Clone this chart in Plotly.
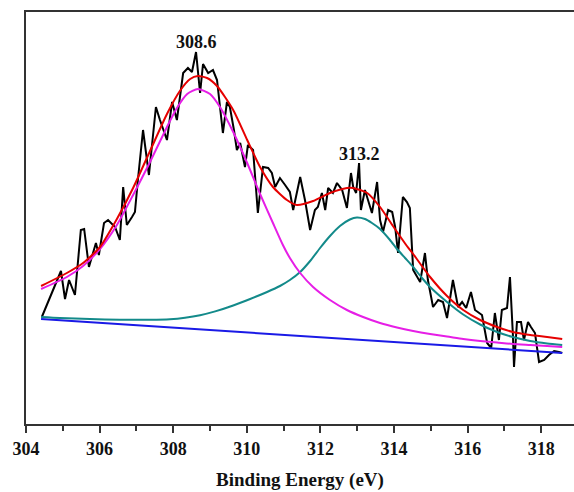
import plotly.graph_objects as go

# Measured spectrum (binding energy in eV, intensity in a.u.)
energy = [304.43, 304.95, 305.06, 305.17, 305.33, 305.49, 305.58, 305.71, 305.90, 305.98,
          306.12, 306.23, 306.42, 306.55, 306.64, 306.74, 306.88, 306.96, 307.04, 307.18,
          307.34, 307.53, 307.64, 307.83, 307.97, 308.10, 308.27, 308.40, 308.51, 308.62,
          308.73, 308.81, 308.95, 309.08, 309.19, 309.35, 309.46, 309.54, 309.65, 309.73,
          309.82, 309.95, 310.03, 310.17, 310.30, 310.44, 310.58, 310.68, 310.77, 310.90,
          311.04, 311.17, 311.26, 311.45, 311.58, 311.72, 311.85, 311.93, 312.04, 312.13,
          312.21, 312.34, 312.45, 312.59, 312.72, 312.83, 312.89, 312.97, 313.05, 313.10,
          313.21, 313.29, 313.40, 313.54, 313.62, 313.70, 313.84, 313.95, 314.03, 314.11,
          314.24, 314.35, 314.43, 314.52, 314.63, 314.71, 314.84, 314.92, 315.06, 315.20,
          315.33, 315.44, 315.60, 315.74, 315.85, 315.96, 316.09, 316.20, 316.39, 316.53,
          316.64, 316.74, 316.85, 316.93, 317.07, 317.15, 317.23, 317.26, 317.34, 317.45,
          317.53, 317.64, 317.72, 317.83, 317.94, 318.08, 318.21, 318.35, 318.48, 318.57]
intensity = [107, 153, 125, 144, 129, 194, 195, 157, 181, 169,
             201, 204, 197, 184, 237, 199, 207, 212, 244, 294,
             249, 317, 304, 284, 322, 304, 351, 356, 352, 372,
             331, 360, 351, 354, 344, 291, 322, 317, 294, 274,
             281, 257, 279, 274, 211, 257, 256, 251, 237, 246,
             239, 232, 214, 247, 224, 194, 214, 217, 231, 214,
             236, 231, 241, 234, 216, 251, 237, 231, 261, 214,
             234, 224, 211, 242, 204, 192, 214, 212, 197, 171,
             227, 222, 216, 154, 147, 142, 171, 144, 117, 124,
             122, 106, 144, 117, 122, 116, 132, 114, 109, 81,
             76, 111, 84, 114, 116, 147, 89, 57, 102, 102,
             84, 102, 97, 91, 62, 64, 69, 73, 72, 71]

# Linear background
bg_energy = [304.41, 318.57]
bg_intensity = [105, 71]

# Fitted component at 313.2 eV
p2_energy = [304.41, 304.92, 305.74, 306.55, 307.37, 307.91, 308.32, 308.73, 309.14, 309.63,
             310.09, 310.55, 310.90, 311.17, 311.45, 311.72, 311.99, 312.26, 312.53, 312.80,
             312.99, 313.21, 313.40, 313.62, 313.89, 314.08, 314.30, 314.52, 314.76, 314.98,
             315.44, 315.88, 316.34, 316.80, 317.23, 317.70, 318.16, 318.57]
p2_intensity = [107, 106, 105, 104.2, 104.2, 104.8, 106.3, 108.8, 112.6, 118.5,
                125, 132, 138, 144, 152, 163, 176, 188, 198, 204.5,
                206.5, 205, 201, 195, 184, 175, 166, 157, 146, 137,
                122, 109.5, 99.5, 92, 87, 83, 80.5, 79]

# Fitted component at 308.6 eV
p1_energy = [304.41, 305.11, 305.55, 306.01, 306.47, 306.91, 307.37, 307.83, 308.10, 308.38,
             308.67, 309.00, 309.27, 309.63, 310.01, 310.36, 310.71, 310.98, 311.17, 311.45,
             311.80, 312.26, 312.72, 313.16, 313.62, 314.08, 314.52, 314.98, 315.44, 315.88,
             316.34, 316.80, 317.23, 317.70, 318.16, 318.57]
p1_intensity = [135, 147, 158, 175, 199, 229, 262, 297, 316, 330,
                335, 330, 317, 292, 261, 230, 201, 179, 166, 151,
                137, 124, 114, 107, 101, 96.5, 93, 90, 87.5, 85,
                83, 81.5, 80, 79, 78, 77]

# Fitted envelope
env_energy = [304.41, 305.11, 305.55, 306.01, 306.47, 306.91, 307.37, 307.83, 308.18, 308.46,
              308.67, 308.92, 309.19, 309.63, 310.01, 310.36, 310.71, 311.09, 311.36, 311.80,
              312.26, 312.72, 312.89, 313.27, 313.62, 313.97, 314.35, 314.52, 314.98, 315.44,
              315.88, 316.34, 316.80, 317.23, 317.70, 318.16, 318.57]
env_intensity = [138, 151, 161, 177, 205, 236, 273, 310, 333, 345,
                 348, 346, 338, 314, 284, 257, 237, 224, 219, 223,
                 231, 236, 236, 231, 217, 198, 178, 170, 147, 128,
                 114, 104, 97, 92, 89, 87, 85]

peak_labels = ["308.6", "313.2"]
peak_label_x = [308.62, 313.05]
peak_label_y = [382, 270]

x_ticks = [304, 306, 308, 310, 312, 314, 316, 318]

serif = "Liberation Serif, Times New Roman, serif"

fig = go.Figure()
fig.add_trace(go.Scatter(x=energy, y=intensity, mode="lines",
                         line=dict(color="#000000", width=2)))
fig.add_trace(go.Scatter(x=bg_energy, y=bg_intensity, mode="lines",
                         line=dict(color="#1a1ae6", width=2)))
fig.add_trace(go.Scatter(x=p2_energy, y=p2_intensity, mode="lines",
                         line=dict(color="#138a8a", width=2, shape="spline", smoothing=0.6)))
fig.add_trace(go.Scatter(x=p1_energy, y=p1_intensity, mode="lines",
                         line=dict(color="#e61ee6", width=2, shape="spline", smoothing=0.6)))
fig.add_trace(go.Scatter(x=env_energy, y=env_intensity, mode="lines",
                         line=dict(color="#e60000", width=2, shape="spline", smoothing=0.6)))

for txt, xv, yv in zip(peak_labels, peak_label_x, peak_label_y):
    fig.add_annotation(x=xv, y=yv, text=f"<b>{txt}</b>", showarrow=False,
                       font=dict(family=serif, size=18, color="#111111"))

fig.update_layout(
    width=574, height=492,
    margin=dict(l=26, r=0, t=12, b=68),
    plot_bgcolor="white", paper_bgcolor="white",
    showlegend=False,
    font=dict(family=serif, color="#111111"),
)
fig.update_xaxes(
    range=[304, 318.89], tickvals=x_ticks,
    ticktext=[f"<b>{t}</b>" for t in x_ticks],
    ticks="outside", ticklen=7, tickwidth=1.5, tickcolor="#333333",
    minor=dict(dtick=1, tick0=304, ticks="outside", ticklen=5, tickwidth=1.5, tickcolor="#333333"),
    showline=True, linecolor="#333333", linewidth=2, mirror=True,
    showgrid=False, zeroline=False,
    tickfont=dict(family=serif, size=18, color="#111111"),
    title=dict(text="<b>Binding Energy (eV)</b>", standoff=15,
               font=dict(family=serif, size=19, color="#111111")),
)
fig.update_yaxes(
    range=[0, 412], showticklabels=False, ticks="",
    showline=True, linecolor="#333333", linewidth=2,
    showgrid=False, zeroline=False,
)

fig.write_html("out.html", config={"displayModeBar": False})
